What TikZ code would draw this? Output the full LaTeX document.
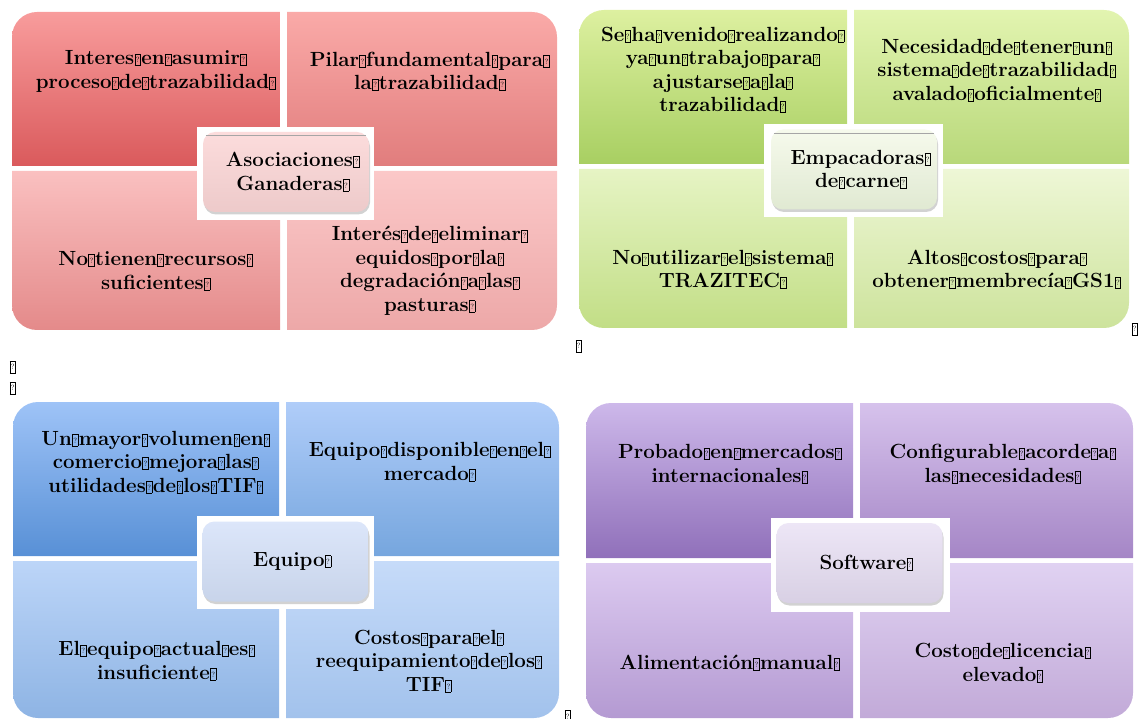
\documentclass[tikz,border=0pt]{standalone}
\usepackage{fontspec}
\usetikzlibrary{positioning,shadows}

% colours of the four matrices (top / bottom of each cell)
\definecolor{RedTLt}{HTML}{F89C9C}\definecolor{RedTLb}{HTML}{DA5A5C}
\definecolor{RedTRt}{HTML}{FAAAA8}\definecolor{RedTRb}{HTML}{E17D7D}
\definecolor{RedBLt}{HTML}{FAC0C0}\definecolor{RedBLb}{HTML}{E48A8A}
\definecolor{RedBRt}{HTML}{FBC8C8}\definecolor{RedBRb}{HTML}{EDA8A8}
\definecolor{RedCt}{HTML}{FCDCDC}\definecolor{RedCb}{HTML}{EDCACA}
\definecolor{GrnTLt}{HTML}{DDF0A0}\definecolor{GrnTLb}{HTML}{A8CF62}
\definecolor{GrnTRt}{HTML}{E2F4B0}\definecolor{GrnTRb}{HTML}{B8D87A}
\definecolor{GrnBLt}{HTML}{E6F4C4}\definecolor{GrnBLb}{HTML}{C2DE86}
\definecolor{GrnBRt}{HTML}{EEF7D6}\definecolor{GrnBRb}{HTML}{CDE39C}
\definecolor{GrnCt}{HTML}{F6FAEC}\definecolor{GrnCb}{HTML}{E0E9D2}
\definecolor{BluTLt}{HTML}{9EC3F7}\definecolor{BluTLb}{HTML}{5890D6}
\definecolor{BluTRt}{HTML}{B0CDF9}\definecolor{BluTRb}{HTML}{76A6DE}
\definecolor{BluBLt}{HTML}{BCD5F8}\definecolor{BluBLb}{HTML}{8EB4E4}
\definecolor{BluBRt}{HTML}{C6DBF9}\definecolor{BluBRb}{HTML}{A2C2EC}
\definecolor{BluCt}{HTML}{DCE6FA}\definecolor{BluCb}{HTML}{C8D4EA}
\definecolor{PurTLt}{HTML}{CDB8EA}\definecolor{PurTLb}{HTML}{9070BA}
\definecolor{PurTRt}{HTML}{D6C2EC}\definecolor{PurTRb}{HTML}{A586C6}
\definecolor{PurBLt}{HTML}{DCCAF0}\definecolor{PurBLb}{HTML}{B49AD2}
\definecolor{PurBRt}{HTML}{E0D2F2}\definecolor{PurBRb}{HTML}{C2AAD8}
\definecolor{PurCt}{HTML}{EDE6F6}\definecolor{PurCb}{HTML}{D8D0E4}

% the boxed glyph that stands in for every space
\newcommand{\gq}{\kern0.3pt{\fboxsep=0.6pt\fboxrule=0.6pt\fbox{\normalfont\fontsize{7.5}{7.5}\selectfont\rule{0pt}{10pt}\raisebox{2pt}{?}}}\kern0.6pt}

\begin{document}
\begin{tikzpicture}[x=1pt,y=-1pt,
  cell/.style={font=\fontsize{20.5}{23.5}\selectfont\bfseries, align=center, inner sep=0pt},
  core/.style={rounded corners=12pt, minimum width=166pt, minimum height=80pt,
    drop shadow={opacity=0.35, shadow xshift=1pt, shadow yshift=-2.5pt}},
  parmark/.style={inner sep=0pt}]
  \useasboundingbox (0,0) rectangle (1141,719);

  %Asociaciones Ganaderas
  \shade[top color=RedTLt, bottom color=RedTLb] (12,166) -- (12,37) arc[start angle=180,end angle=270,radius=25] -- (280,12) -- (280,166) -- cycle;
  \shade[top color=RedTRt, bottom color=RedTRb] (287,12) -- (532,12) arc[start angle=270,end angle=360,radius=25] -- (557,166) -- (287,166) -- cycle;
  \shade[top color=RedBRt, bottom color=RedBRb] (287,171) -- (557,171) -- (557,305) arc[start angle=0,end angle=90,radius=25] -- (287,330) -- cycle;
  \shade[top color=RedBLt, bottom color=RedBLb] (12,171) -- (280,171) -- (280,330) -- (37,330) arc[start angle=90,end angle=180,radius=25] -- cycle;
  \node[cell] (AsocTL) at (156,71.5) {Interes\gq en\gq asumir\gq\\proceso\gq de\gq trazabilidad\gq};
  \node[cell] (AsocTR) at (430,71.5) {Pilar\gq fundamental\gq para\gq\\la\gq trazabilidad\gq};
  \node[cell] (AsocBL) at (156,271) {No\gq tienen\gq recursos\gq\\suficientes\gq};
  \node[cell] (AsocBR) at (430,271) {Interés\gq de\gq eliminar\gq\\equidos\gq por\gq la\gq\\degradación\gq a\gq las\gq\\pasturas\gq};
  \fill[white] (197,127) rectangle (374,220);
  \node[core, top color=RedCt, bottom color=RedCb] (AsocBox) at (286,172) {};
  \draw[gray!70, line width=0.6pt] ([xshift=3pt,yshift=-4pt]AsocBox.north west) -- ([xshift=-3pt,yshift=-4pt]AsocBox.north east);
  \node[cell] (AsocText) at ([xshift=7pt]AsocBox.center) {Asociaciones\gq\\Ganaderas\gq};

  %Empacadoras de carne
  \shade[top color=GrnTLt, bottom color=GrnTLb] (579,164) -- (579,35) arc[start angle=180,end angle=270,radius=25] -- (847,10) -- (847,164) -- cycle;
  \shade[top color=GrnTRt, bottom color=GrnTRb] (854,10) -- (1104,10) arc[start angle=270,end angle=360,radius=25] -- (1129,164) -- (854,164) -- cycle;
  \shade[top color=GrnBRt, bottom color=GrnBRb] (854,169) -- (1129,169) -- (1129,303) arc[start angle=0,end angle=90,radius=25] -- (854,328) -- cycle;
  \shade[top color=GrnBLt, bottom color=GrnBLb] (579,169) -- (847,169) -- (847,328) -- (604,328) arc[start angle=90,end angle=180,radius=25] -- cycle;
  \node[cell] (EmpaTL) at (723,70) {Se\gq ha\gq venido\gq realizando\gq\\ya\gq un\gq trabajo\gq para\gq\\ajustarse\gq a\gq la\gq\\trazabilidad\gq};
  \node[cell] (EmpaTR) at (997,70) {Necesidad\gq de\gq tener\gq un\gq\\sistema\gq de\gq trazabilidad\gq\\avalado\gq oficialmente\gq};
  \node[cell] (EmpaBL) at (723,269.5) {No\gq utilizar\gq el\gq sistema\gq\\TRAZITEC\gq};
  \node[cell] (EmpaBR) at (997,269.5) {Altos\gq costos\gq para\gq\\obtener\gq membrecía\gq GS1\gq};
  \fill[white] (764,124) rectangle (943,217);
  \node[core, top color=GrnCt, bottom color=GrnCb] (EmpaBox) at (854,169.5) {};
  \draw[gray!70, line width=0.6pt] ([xshift=3pt,yshift=-4pt]EmpaBox.north west) -- ([xshift=-3pt,yshift=-4pt]EmpaBox.north east);
  \node[cell] (EmpaText) at ([xshift=7pt]EmpaBox.center) {Empacadoras\gq\\de\gq carne\gq};

  %Equipo
  \shade[top color=BluTLt, bottom color=BluTLb] (13,556) -- (13,427) arc[start angle=180,end angle=270,radius=25] -- (279,402) -- (279,556) -- cycle;
  \shade[top color=BluTRt, bottom color=BluTRb] (286,402) -- (534,402) arc[start angle=270,end angle=360,radius=25] -- (559,556) -- (286,556) -- cycle;
  \shade[top color=BluBRt, bottom color=BluBRb] (286,561) -- (559,561) -- (559,693) arc[start angle=0,end angle=90,radius=25] -- (286,718) -- cycle;
  \shade[top color=BluBLt, bottom color=BluBLb] (13,561) -- (279,561) -- (279,718) -- (38,718) arc[start angle=90,end angle=180,radius=25] -- cycle;
  \node[cell] (EquiTL) at (156,462) {Un\gq mayor\gq volumen\gq en\gq\\comercio\gq mejora\gq las\gq\\utilidades\gq de\gq los\gq TIF\gq};
  \node[cell] (EquiTR) at (430,462) {Equipo\gq disponible\gq en\gq el\gq\\mercado\gq};
  \node[cell] (EquiBL) at (157,661) {El\gq equipo\gq actual\gq es\gq\\insuficiente\gq};
  \node[cell] (EquiBR) at (429,661) {Costos\gq para\gq el\gq\\reequipamiento\gq de\gq los\gq\\TIF\gq};
  \fill[white] (197,516) rectangle (374,609);
  \node[core, top color=BluCt, bottom color=BluCb] (EquiBox) at (285.5,561.5) {};
  \node[cell] (EquiText) at ([xshift=7pt]EquiBox.center) {Equipo\gq};

  %Software
  \shade[top color=PurTLt, bottom color=PurTLb] (586,558) -- (586,428) arc[start angle=180,end angle=270,radius=25] -- (853,403) -- (853,558) -- cycle;
  \shade[top color=PurTRt, bottom color=PurTRb] (860,403) -- (1108,403) arc[start angle=270,end angle=360,radius=25] -- (1133,558) -- (860,558) -- cycle;
  \shade[top color=PurBRt, bottom color=PurBRb] (860,563) -- (1133,563) -- (1133,693) arc[start angle=0,end angle=90,radius=25] -- (860,718) -- cycle;
  \shade[top color=PurBLt, bottom color=PurBLb] (586,563) -- (853,563) -- (853,718) -- (611,718) arc[start angle=90,end angle=180,radius=25] -- cycle;
  \node[cell] (SoftTL) at (730,464) {Probado\gq en\gq mercados\gq\\internacionales\gq};
  \node[cell] (SoftTR) at (1003,464) {Configurable\gq acorde\gq a\gq\\las\gq necesidades\gq};
  \node[cell] (SoftBL) at (730,663) {Alimentación\gq manual\gq};
  \node[cell] (SoftBR) at (1003,663) {Costo\gq de\gq licencia\gq\\elevado\gq};
  \fill[white] (771,518) rectangle (950,612);
  \node[core, top color=PurCt, bottom color=PurCb] (SoftBox) at (859.5,563) {};
  \node[cell] (SoftText) at ([xshift=7pt]SoftBox.center) {Software\gq};

  %stray paragraph marks
  \node[parmark] (MarkA) at (579,346) {\gq};
  \node[parmark] (MarkB) at (1135,329) {\gq};
  \node[parmark] (MarkC) at (13,367) {\gq};
  \node[parmark] (MarkD) at (13,388) {\gq};
  \node[parmark] (MarkE) at (568,716) {\gq};
\end{tikzpicture}
\end{document}
